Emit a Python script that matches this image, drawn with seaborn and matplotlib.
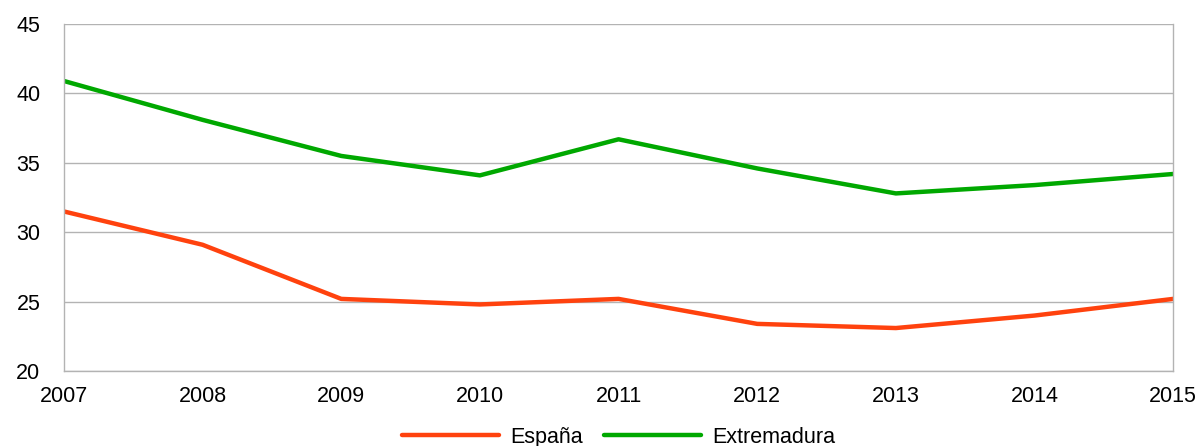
import pandas as pd
import matplotlib.pyplot as plt
import seaborn as sns

years = [2007, 2008, 2009, 2010, 2011, 2012, 2013, 2014, 2015]
espana = [31.5, 29.1, 25.2, 24.8, 25.2, 23.4, 23.1, 24.0, 25.2]
extremadura = [40.9, 38.1, 35.5, 34.1, 36.7, 34.6, 32.8, 33.4, 34.2]

df = pd.DataFrame({"Año": years * 2,
                   "Valor": espana + extremadura,
                   "Serie": ["España"] * len(years) + ["Extremadura"] * len(years)})

sns.set_style("white")
plt.rcParams['font.family'] = ['Liberation Sans', 'DejaVu Sans']

fig = plt.figure(figsize=(12.02, 4.46), dpi=100)
ax = fig.add_axes([0.0532, 0.168, 0.9228, 0.778])

sns.lineplot(data=df, x="Año", y="Valor", hue="Serie",
             palette={"España": "#ff420e", "Extremadura": "#00a800"},
             linewidth=3.2, ax=ax)

ax.set_xlim(2007, 2015)
ax.set_ylim(20, 45)
ax.set_xticks(years)
ax.set_yticks(range(20, 50, 5))
ax.grid(axis="y", color="#b3b3b3", linewidth=1)
ax.set_axisbelow(True)
ax.set_xlabel("")
ax.set_ylabel("")
for s in ["left", "right", "bottom"]:
    ax.spines[s].set_color("#b3b3b3")
    ax.spines[s].set_linewidth(1)
ax.spines["top"].set_visible(False)
ax.tick_params(axis="x", direction="out", length=6, color="#b3b3b3",
               labelsize=15.5, labelcolor="black", pad=5)
ax.tick_params(axis="y", length=0, labelsize=15.5, labelcolor="black", pad=17)

ax.legend(loc="upper center", bbox_to_anchor=(0.5, -0.135), ncol=2, frameon=False,
          fontsize=15.5, handlelength=4.5, columnspacing=1.0, handletextpad=0.5,
          borderaxespad=0, labelcolor="black")

fig.savefig("out.png", dpi=100)
